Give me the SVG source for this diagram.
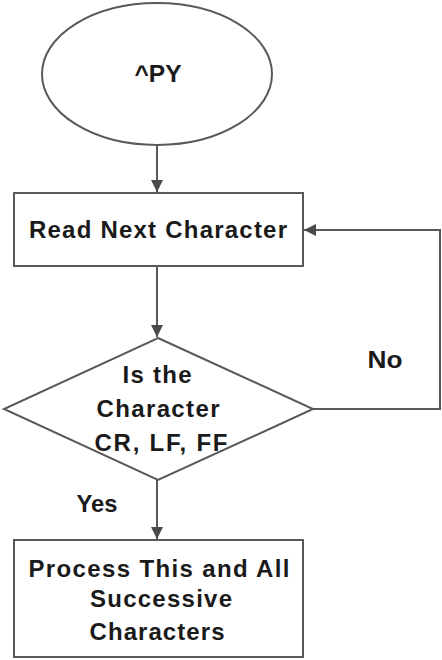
<svg xmlns="http://www.w3.org/2000/svg" width="442" height="660" viewBox="0 0 442 660">
<style>
.shape{fill:#fff;stroke:#595959;stroke-width:2}
.conn{fill:none;stroke:#595959;stroke-width:2}
text{font-family:"Liberation Sans",Arial,sans-serif;font-weight:bold;font-size:24px;fill:#1a1a1a}
</style>
<defs>
<marker id="arr" viewBox="0 0 12 12" refX="12" refY="6" markerWidth="12" markerHeight="12" markerUnits="userSpaceOnUse" orient="auto">
<path d="M0,0 L12,6 L0,12 Z" fill="#4a4a4a"/>
</marker>
</defs>
<rect width="442" height="660" fill="#fff"/>
<g id="connectors">
<line class="conn" x1="157" y1="146" x2="157" y2="192" marker-end="url(#arr)"/>
<line class="conn" x1="157" y1="266" x2="157" y2="337" marker-end="url(#arr)"/>
<polyline class="conn" points="313,409 440,409 440,230 304,230" marker-end="url(#arr)"/>
<line class="conn" x1="157" y1="480" x2="157" y2="539" marker-end="url(#arr)"/>
<text x="385" y="368" text-anchor="middle" textLength="35" lengthAdjust="spacingAndGlyphs">No</text>
<text x="97" y="512" text-anchor="middle" textLength="41" lengthAdjust="spacingAndGlyphs">Yes</text>
</g>
<g id="start">
<ellipse class="shape" cx="157" cy="74" rx="115" ry="71"/>
<text x="158" y="82" text-anchor="middle" textLength="47" lengthAdjust="spacingAndGlyphs">^PY</text>
</g>
<g id="read">
<rect class="shape" x="14" y="193" width="289" height="73"/>
<text x="158" y="238" text-anchor="middle" textLength="258" lengthAdjust="spacing">Read Next Character</text>
</g>
<g id="decision">
<polygon class="shape" points="158,338 313,409 158,480 4,409"/>
<text x="157" y="383" text-anchor="middle" textLength="69" lengthAdjust="spacing">Is the</text>
<text x="158" y="417" text-anchor="middle" textLength="123" lengthAdjust="spacing">Character</text>
<text x="161" y="451" text-anchor="middle" textLength="133" lengthAdjust="spacing">CR, LF, FF</text>
</g>
<g id="process">
<rect class="shape" x="14" y="540" width="289" height="117"/>
<text x="159" y="577" text-anchor="middle" textLength="261" lengthAdjust="spacing">Process This and All</text>
<text x="161" y="607" text-anchor="middle" textLength="142" lengthAdjust="spacing">Successive</text>
<text x="157" y="640" text-anchor="middle" textLength="135" lengthAdjust="spacing">Characters</text>
</g>
</svg>
